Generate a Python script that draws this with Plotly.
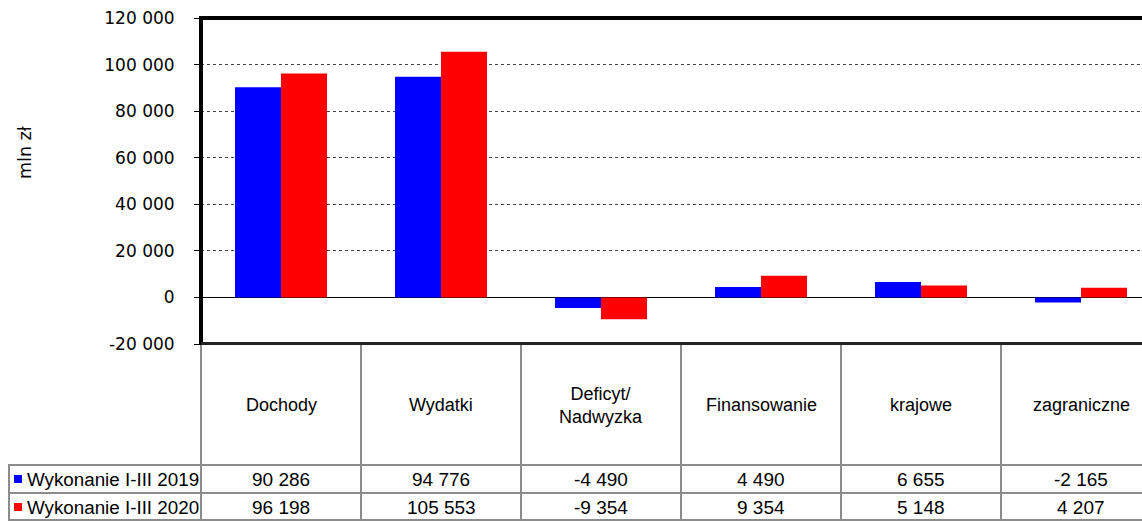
import plotly.graph_objects as go

categories = ["Dochody", "Wydatki", "Deficyt/<br>Nadwyzka", "Finansowanie", "krajowe", "zagraniczne"]
series_names = ["Wykonanie I-III 2019", "Wykonanie I-III 2020"]
v2019 = [90286, 94776, -4490, 4490, 6655, -2165]
v2020 = [96198, 105553, -9354, 9354, 5148, 4207]
colors = ["#0000FF", "#FF0000"]
y_ticks = [-20000, 0, 20000, 40000, 60000, 80000, 100000, 120000]


def fmt(v):
    s = f"{abs(v):,}".replace(",", " ")
    return ("-" if v < 0 else "") + s


W, H = 1142, 521
L, T, B = 201, 18, 177
plot_h = H - T - B  # 326
plot_w = W - L      # 941
col_w = 160.0


def py(pix):  # pixel y -> paper y
    return (H - B - pix) / plot_h


def px(pix):  # pixel x -> paper x
    return (pix - L) / plot_w


xs = list(range(len(categories)))
fig = go.Figure()
for name, vals, c in zip(series_names, [v2019, v2020], colors):
    fig.add_trace(go.Bar(x=xs, y=vals, name=name, marker=dict(color=c, line=dict(width=0)),
                         showlegend=False, hoverinfo="skip"))

x_max = -0.5 + plot_w / col_w

fig.update_layout(
    width=W, height=H,
    margin=dict(l=L, r=0, t=T, b=B, pad=0),
    paper_bgcolor="white", plot_bgcolor="white",
    barmode="group", bargap=0.425, bargroupgap=0,
    xaxis=dict(range=[-0.5, x_max], showticklabels=False, showgrid=False, zeroline=False,
               ticks="", showline=False, fixedrange=True),
    yaxis=dict(range=[-20000, 120000], tickvals=y_ticks, ticktext=[fmt(v) for v in y_ticks],
               tickfont=dict(family="DejaVu Sans", size=17, color="black"),
               ticks="outside", ticklen=6, tickcolor="black", tickwidth=1,
               ticklabelstandoff=16,
               showgrid=True, gridcolor="#444444", griddash="dot", gridwidth=1,
               zeroline=True, zerolinecolor="black", zerolinewidth=1.2,
               showline=False, fixedrange=True),
    font=dict(family="Liberation Sans", size=19, color="black"),
)

shapes = []
# plot border
shapes.append(dict(type="line", xref="paper", yref="paper", x0=0, x1=1, y0=1, y1=1,
                   line=dict(color="black", width=4)))
shapes.append(dict(type="line", xref="paper", yref="paper", x0=0, x1=0, y0=py(345), y1=py(16),
                   line=dict(color="black", width=4)))
shapes.append(dict(type="line", xref="paper", yref="paper", x0=0, x1=1, y0=py(343.5), y1=py(343.5),
                   line=dict(color="#222222", width=3)))

grey = "#8c8c8c"
# table vertical lines
for i in range(len(categories)):
    shapes.append(dict(type="line", xref="x", yref="paper", x0=i + 0.5, x1=i + 0.5,
                       y0=py(345), y1=py(521), line=dict(color=grey, width=2)))
shapes.append(dict(type="line", xref="paper", yref="paper", x0=px(201), x1=px(201),
                   y0=py(345), y1=py(521), line=dict(color=grey, width=2)))
shapes.append(dict(type="line", xref="paper", yref="paper", x0=px(9), x1=px(9),
                   y0=py(465), y1=py(521), line=dict(color=grey, width=2)))
# table horizontal lines
for yy in [465, 493, 520]:
    shapes.append(dict(type="line", xref="paper", yref="paper", x0=px(8), x1=1,
                       y0=py(yy), y1=py(yy), line=dict(color=grey, width=2)))
# legend squares
for k, c in enumerate(colors):
    yc = 479 + 28 * k
    shapes.append(dict(type="rect", xref="paper", yref="paper", x0=px(14), x1=px(22),
                       y0=py(yc + 4), y1=py(yc - 4), fillcolor=c, line=dict(width=0)))

annotations = []
for i, cat in enumerate(categories):
    annotations.append(dict(x=i, xref="x", y=py(405), yref="paper", text=cat, showarrow=False,
                            xanchor="center", yanchor="middle", font=dict(size=18)))
    for k, vals in enumerate([v2019, v2020]):
        annotations.append(dict(x=i, xref="x", y=py(479 + 28 * k), yref="paper", text=fmt(vals[i]),
                                showarrow=False, xanchor="center", yanchor="middle", font=dict(size=19)))
for k, name in enumerate(series_names):
    annotations.append(dict(x=px(25), xref="paper", y=py(479 + 28 * k), yref="paper", text=name,
                            showarrow=False, xanchor="left", yanchor="middle", font=dict(size=18.8)))
annotations.append(dict(x=px(25), xref="paper", y=py(153), yref="paper", text="mln zł", textangle=-90,
                        showarrow=False, xanchor="center", yanchor="middle",
                        font=dict(family="DejaVu Sans", size=17.5)))

fig.update_layout(shapes=shapes, annotations=annotations)
fig.write_html("out.html", config={"displayModeBar": False},
               post_script="document.body.style.margin='0px';document.body.style.overflow='hidden';")
